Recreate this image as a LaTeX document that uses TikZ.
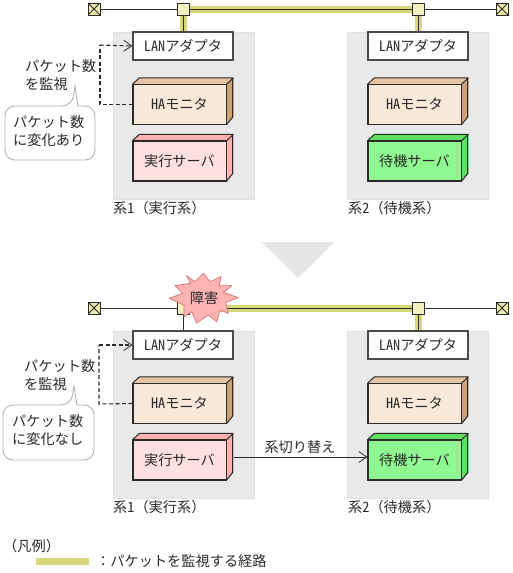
\documentclass[tikz,border=0pt]{standalone}
\usepackage{fontspec}
\setmainfont{Noto Sans CJK JP}
\newfontfamily\hw[RawFeature=+hwid]{Noto Sans CJK JP}
\usetikzlibrary{arrows.meta,calc}
\definecolor{ink}{HTML}{2A2A2A}
\definecolor{grp}{HTML}{E9E9E9}
\definecolor{yel}{HTML}{D8D878}
\definecolor{sq}{HTML}{F2F2C0}
\definecolor{hafront}{HTML}{F7E8D8}
\definecolor{hatop}{HTML}{E6C3A5}
\definecolor{haside}{HTML}{CFA276}
\definecolor{exfront}{HTML}{FFE0E0}
\definecolor{extop}{HTML}{FFB0B0}
\definecolor{gnfront}{HTML}{90F890}
\definecolor{gntop}{HTML}{60E060}
\definecolor{starfill}{HTML}{FFB4B4}
\definecolor{starline}{HTML}{D87878}
\tikzset{
  x=1pt,y=-1pt,
  txt/.style={font=\fontsize{14.2}{16}\selectfont,text=ink,inner sep=0pt},
  group/.style={draw=black!12,fill=grp,line width=1pt,minimum width=141pt,minimum height=167pt,inner sep=0pt},
  lan/.style={draw=ink!85,fill=white,line width=1.2pt,minimum width=100pt,minimum height=28pt,inner sep=0pt,txt},
  front/.style={draw=ink,line width=1pt,minimum width=93pt,minimum height=39.5pt,inner sep=0pt,txt},
  edge3d/.style={draw=ink,line width=1pt,line join=round},
  term/.style={draw=ink,fill=sq!80!yel,line width=1pt,minimum size=12pt,inner sep=0pt,
    path picture={\draw[ink,line width=.8pt] (path picture bounding box.north west)--(path picture bounding box.south east)
      (path picture bounding box.north east)--(path picture bounding box.south west);}},
  tap/.style={draw=ink,fill=sq,line width=1pt,minimum size=12pt,inner sep=0pt},
  thin/.style={draw=ink,line width=1pt},
  path/.style={draw=yel,line width=7pt},
  monitor/.style={draw=ink,line width=1.1pt,dash pattern=on 4pt off 2.5pt},
  open/.style={-{Straight Barb[length=8pt,width=11pt,line width=.8pt]}},
  balloon/.style={draw=black!30,fill=white,line width=.9pt,rounded corners=10pt},
}
% name, centre x of front, centre y of front, front, top, side, text
\newcommand{\boxthree}[7]{%
  \node[front,fill=#4] (#1) at (#2,#3) {#7};
  \fill[#5] (#1.north west) -- ++(7,-6.5) -- ++(93,0) -- (#1.north east) -- cycle;
  \fill[#6] (#1.north east) -- ++(7,-6.5) -- ++(0,39.5) -- (#1.south east) -- cycle;
  \path[edge3d] (#1.north west) -- ++(7,-6.5) -- ++(93,0) -- ++(0,39.5) -- (#1.south east)
     (#1.north east) -- ++(7,-6.5);
  \draw[edge3d] (#1.north west) rectangle (#1.south east);
}
\newcommand{\hwt}[1]{{\hw #1}}
\begin{document}
\begin{tikzpicture}
\useasboundingbox (0,0) rectangle (512,573);
\fill[white] (0,0) rectangle (512,573);

% ---------- upper half
\node[group] (g1) at (183.5,115.5) {};
\node[group] (g2) at (418,115.5) {};
\node[term] (t1) at (94,9) {};
\node[tap] (s1) at (183,9) {};
\node[tap] (s2) at (418,9) {};
\node[term] (t2) at (502,9) {};
\node[lan] (l1) at (183,46) {\hwt{LAN}アダプタ};
\node[lan] (l2) at (418,46) {\hwt{LAN}アダプタ};
\path[path] (s1) -- (s2);
\path[path] (s1) -- (l1);
\path[path] (s2) -- (l2);
\path[thin] (t1) -- (s1) (s2) -- (t2) (s1) -- (s2) (s1) -- (l1) (s2) -- (l2);
\node[tap] at (s1) {};
\node[tap] at (s2) {};
\node[term] at (t1) {};
\node[term] at (t2) {};
\boxthree{h1}{179.5}{104.5}{hafront}{hatop}{haside}{\hwt{HA}モニタ}
\boxthree{h2}{414.5}{104.5}{hafront}{hatop}{haside}{\hwt{HA}モニタ}
\boxthree{e1}{179.5}{161}{exfront}{extop}{extop}{実行サーバ}
\boxthree{b1}{414.5}{161}{gnfront}{gntop}{gntop}{待機サーバ}
\coordinate (c1) at (100,104.5);
\coordinate (c2) at (100,45);
\draw[monitor] (h1.west) -- (c1) -- (c2);
\draw[monitor,open] (c2) -- (l1.west);
\node[txt,anchor=west] (m1a) at (25,66) {パケット数};
\node[txt,anchor=west] (m1b) at (25,84) {を監視};
\path[balloon] (5,106) -- (72,106) [sharp corners] -- (75,86) -- (78,106) [rounded corners=10pt] -- (95,106) -- (95,160) -- (5,160) -- cycle;
\node[txt,anchor=west] (n1a) at (13,122) {パケット数};
\node[txt,anchor=west] (n1b) at (13,140) {に変化あり};
\node[txt,anchor=west] (c1a) at (113,208) {系\hwt{1}（実行系）};
\node[txt,anchor=west] (c2a) at (348,208) {系\hwt{2}（待機系）};

% ---------- arrow between
\fill[black!10] (262,242) -- (334,242) -- (298,278) -- cycle;

% ---------- lower half
\node[group] (g3) at (183.5,414.5) {};
\node[group] (g4) at (418,414.5) {};
\node[term] (t3) at (94,308) {};
\node[tap] (s3) at (183,308) {};
\node[tap] (s4) at (418,308) {};
\node[term] (t4) at (502,308) {};
\node[lan] (l3) at (183,345) {\hwt{LAN}アダプタ};
\node[lan] (l4) at (418,345) {\hwt{LAN}アダプタ};
\path[path] (s3) -- (s4);
\path[path] (s4) -- (l4);
\path[thin] (t3) -- (s3) (s4) -- (t4) (s3) -- (s4) (s3) -- (l3) (s4) -- (l4);
\node[tap] at (s3) {};
\node[tap] at (s4) {};
\node[term] at (t3) {};
\node[term] at (t4) {};
\begin{scope}[shift={(160,265)},x=.3333pt,y=-.3333pt]
\filldraw[fill=starfill,draw=starline,line width=.8pt,line join=miter]
  (130,25)--(150,50)--(183,35)--(178,62)--(215,62)--(190,82)--(235,98)--(197,112)
  --(205,145)--(180,135)--(170,170)--(145,150)--(110,174)--(95,140)--(72,155)
  --(72,120)--(28,100)--(68,85)--(45,62)--(92,55)--(80,33)--(105,50)--cycle;
\end{scope}
\node[txt] (ft) at (204,298) {障害};
\boxthree{h3}{179.5}{403.5}{hafront}{hatop}{haside}{\hwt{HA}モニタ}
\boxthree{h4}{414.5}{403.5}{hafront}{hatop}{haside}{\hwt{HA}モニタ}
\boxthree{e3}{179.5}{460}{exfront}{extop}{extop}{実行サーバ}
\boxthree{b3}{414.5}{460}{gnfront}{gntop}{gntop}{待機サーバ}
\coordinate (c3) at (99,404);
\coordinate (c4) at (99,345);
\draw[monitor] (h3.west) -- (c3) -- (c4);
\draw[monitor,open] (c4) -- (l3.west);
\node[txt,anchor=west] (m3a) at (24,366) {パケット数};
\node[txt,anchor=west] (m3b) at (24,384) {を監視};
\path[balloon] (3,405) -- (71,405) [sharp corners] -- (74,386) -- (77,405) [rounded corners=10pt] -- (94,405) -- (94,460) -- (3,460) -- cycle;
\node[txt,anchor=west] (n3a) at (12,421) {パケット数};
\node[txt,anchor=west] (n3b) at (12,439) {に変化なし};
\draw[thin,open] ($(e3.east)+(7,-3)$) -- (b3.west |- 0,457);
\node[txt] (sw) at (300,447) {系切り替え};
\node[txt,anchor=west] (c3a) at (113,507) {系\hwt{1}（実行系）};
\node[txt,anchor=west] (c4a) at (348,507) {系\hwt{2}（待機系）};

% ---------- legend
\node[txt,anchor=west] (lg) at (3,546) {（凡例）};
\node[fill=yel,minimum width=53pt,minimum height=7pt,inner sep=0pt] (lb) at (62.5,561.5) {};
\node[txt,anchor=west] (lt) at (96,561) {：パケットを監視する経路};
\end{tikzpicture}
\end{document}
